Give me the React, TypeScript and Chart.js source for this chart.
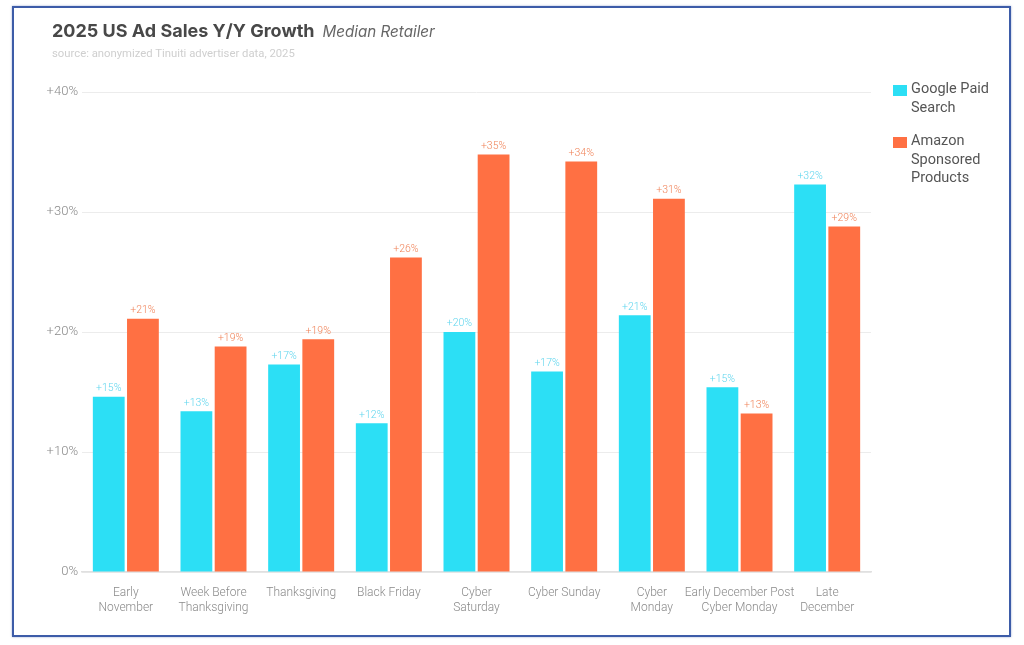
import React, { useEffect, useRef } from "react";
import { Chart, registerables } from "chart.js";

Chart.register(...registerables);

const categories: string[][] = [
  ["Early", "November"],
  ["Week Before", "Thanksgiving"],
  ["Thanksgiving"],
  ["Black Friday"],
  ["Cyber", "Saturday"],
  ["Cyber Sunday"],
  ["Cyber", "Monday"],
  ["Early December Post", "Cyber Monday"],
  ["Late", "December"],
];
const googlePaidSearch = [14.6, 13.4, 17.3, 12.4, 20.0, 16.7, 21.4, 15.4, 32.3];
const amazonSponsoredProducts = [21.1, 18.8, 19.4, 26.2, 34.8, 34.2, 31.1, 13.2, 28.8];
const yTicks = [0, 10, 20, 30, 40];

const CYAN = "#2cdff5";
const ORANGE = "#ff7043";
const CYAN_LABEL = "#62d6ee";
const ORANGE_LABEL = "#f0845a";

const labelPlugin = {
  id: "barValueLabels",
  afterDatasetsDraw(chart: any) {
    const ctx = chart.ctx;
    ctx.save();
    ctx.font = "300 10.5px Roboto";
    ctx.textAlign = "center";
    ctx.textBaseline = "bottom";
    chart.data.datasets.forEach((ds: any, di: number) => {
      const meta = chart.getDatasetMeta(di);
      ctx.fillStyle = di === 0 ? CYAN_LABEL : ORANGE_LABEL;
      meta.data.forEach((el: any, i: number) => {
        const v = ds.data[i];
        ctx.fillText("+" + Math.round(v) + "%", el.x, el.y - 3);
      });
    });
    ctx.restore();
  },
};

export default function App() {
  const ref = useRef<HTMLCanvasElement | null>(null);
  useEffect(() => {
    document.body.style.margin = "0";
    const c = ref.current!;
    const chart = new Chart(c, {
      type: "bar",
      data: {
        labels: categories,
        datasets: [
          {
            label: "Google Paid Search",
            data: googlePaidSearch,
            backgroundColor: CYAN,
            barPercentage: 0.93,
            categoryPercentage: 0.78,
          },
          {
            label: "Amazon Sponsored Products",
            data: amazonSponsoredProducts,
            backgroundColor: ORANGE,
            barPercentage: 0.93,
            categoryPercentage: 0.78,
          },
        ],
      },
      options: {
        animation: false,
        responsive: false,
        devicePixelRatio: 1,
        layout: { padding: { left: 36, top: 92, right: 153, bottom: 14 } },
        plugins: {
          legend: { display: false },
          title: { display: false },
          tooltip: { enabled: false },
        },
        scales: {
          x: {
            grid: { display: false },
            border: { display: true, color: "#e0e0e0", width: 1.5 },
            ticks: {
              color: "#8a8a8a",
              font: { family: "Roboto", size: 12, weight: 300 as any },
              maxRotation: 0,
              autoSkip: false,
              padding: 6,
            },
            afterFit: (s: any) => {
              s.height = 59;
            },
          },
          y: {
            min: 0,
            max: 40,
            afterBuildTicks: (s: any) => {
              s.ticks = yTicks.map((v) => ({ value: v }));
            },
            border: { display: false },
            grid: { color: "#ececec", drawTicks: false },
            ticks: {
              color: "#8a8a8a",
              font: { family: "Roboto", size: 13, weight: 300 as any },
              padding: 4,
              callback: (v: any) => (v === 0 ? "0%" : "+" + v + "%"),
            },
            afterFit: (s: any) => {
              s.width = 46;
            },
          },
        },
      },
      plugins: [labelPlugin],
    });
    return () => chart.destroy();
  }, []);

  return (
    <div
      style={{
        position: "fixed",
        left: 0,
        top: 0,
        width: 1024,
        height: 645,
        background: "#fff",
        overflow: "hidden",
        fontFamily: "Roboto, sans-serif",
      }}
    >
      <div
        style={{
          position: "absolute",
          left: 12,
          top: 6,
          width: 995,
          height: 627,
          border: "2px solid #3d5ca8",
          boxShadow: "0 0 2px rgba(60,90,170,0.5)",
        }}
      />
      <canvas
        ref={ref}
        width={1024}
        height={645}
        style={{ position: "absolute", left: 0, top: 0, width: 1024, height: 645 }}
      />
      <div
        style={{
          position: "absolute",
          left: 52,
          top: 20,
          whiteSpace: "nowrap",
          color: "#484848",
        }}
      >
        <span style={{ fontFamily: "Inter", fontWeight: 700, fontSize: 18, letterSpacing: 0 }}>
          2025 US Ad Sales Y/Y Growth
        </span>
        <span
          style={{
            fontFamily: "Inter",
            fontStyle: "italic",
            fontWeight: 400,
            fontSize: 15.2,
            color: "#666",
            marginLeft: 8,
          }}
        >
          Median Retailer
        </span>
      </div>
      <div
        style={{
          position: "absolute",
          left: 52,
          top: 47,
          fontFamily: "Roboto",
          fontSize: 11.3,
          color: "#cfcfcf",
          whiteSpace: "nowrap",
        }}
      >
        source: anonymized Tinuiti advertiser data, 2025
      </div>
      {[
        { color: CYAN, lines: ["Google Paid", "Search"], top: 80 },
        { color: ORANGE, lines: ["Amazon", "Sponsored", "Products"], top: 132 },
      ].map((item, i) => (
        <div key={i} style={{ position: "absolute", left: 893, top: item.top }}>
          <div
            style={{
              position: "absolute",
              left: 0,
              top: 5,
              width: 14,
              height: 11,
              background: item.color,
            }}
          />
          <div
            style={{
              position: "absolute",
              left: 18,
              top: 0,
              fontFamily: "Roboto",
              fontSize: 14.5,
              lineHeight: "18.5px",
              color: "#555",
              whiteSpace: "nowrap",
            }}
          >
            {item.lines.map((l, j) => (
              <div key={j}>{l}</div>
            ))}
          </div>
        </div>
      ))}
    </div>
  );
}
